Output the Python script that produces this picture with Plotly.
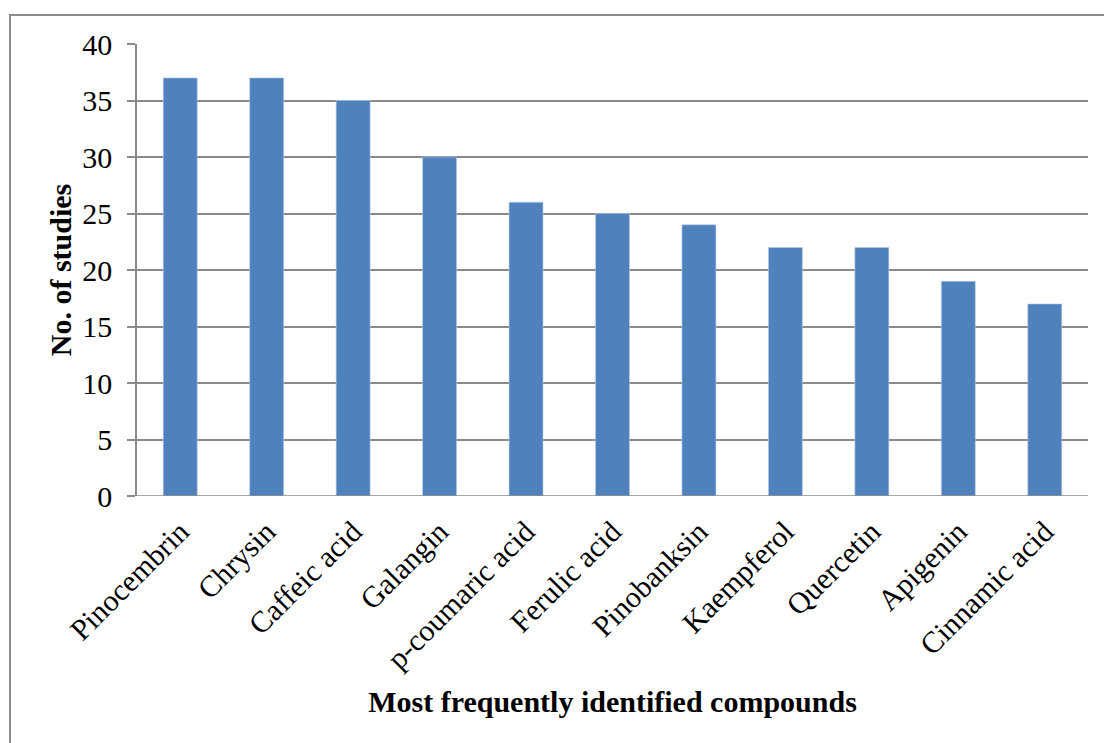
import plotly.graph_objects as go

# Compounds and the number of studies reporting each
compounds = ["Pinocembrin", "Chrysin", "Caffeic acid", "Galangin", "p-coumaric acid",
             "Ferulic acid", "Pinobanksin", "Kaempferol", "Quercetin", "Apigenin",
             "Cinnamic acid"]
studies = [37, 37, 35, 30, 26, 25, 24, 22, 22, 19, 17]
y_ticks = [0, 5, 10, 15, 20, 25, 30, 35, 40]

GRID = "#8a8a8a"
FONT = "Liberation Serif, Times New Roman, serif"
TICK_SIZE = 30
TITLE_SIZE = 30

fig = go.Figure(
    go.Bar(
        x=compounds,
        y=studies,
        marker=dict(color="#4F81BD", line=dict(color="#b9cde5", width=0.6)),
        hoverinfo="x+y",
    )
)

L, R, T, B = 137, 16, 44, 247
W, H = 1104, 743
pw, ph = W - L - R, H - T - B

fig.update_layout(
    width=W,
    height=H,
    margin=dict(l=L, r=R, t=T, b=B),
    paper_bgcolor="white",
    plot_bgcolor="white",
    bargap=0.607,
    showlegend=False,
    font=dict(family=FONT, color="black", size=TICK_SIZE),
    xaxis=dict(
        tickangle=-45,
        tickfont=dict(size=TICK_SIZE),
        showgrid=False,
        showline=False,
        ticks="",
        ticklabelstandoff=11,
        title=dict(text="<b>Most frequently identified compounds</b>",
                   font=dict(size=TITLE_SIZE), standoff=16),
    ),
    yaxis=dict(
        range=[0, 40],
        tickvals=y_ticks,
        tickfont=dict(size=TICK_SIZE),
        showgrid=True,
        gridcolor=GRID,
        gridwidth=1.6,
        showline=True,
        linecolor=GRID,
        linewidth=1.6,
        ticks="outside",
        ticklen=8,
        tickwidth=1.6,
        tickcolor=GRID,
        ticklabelstandoff=9,
        zeroline=False,
        title=dict(text="<b>No. of studies</b>", font=dict(size=TITLE_SIZE), standoff=2),
    ),
    shapes=[
        # outer frame around the whole chart
        dict(type="rect", xref="paper", yref="paper",
             x0=(10 - L) / pw, x1=(1112 - L) / pw,
             y0=(H - B - 760) / ph, y1=(H - B - 15) / ph,
             line=dict(color="#8c8c8c", width=2), fillcolor="rgba(0,0,0,0)",
             layer="below"),
        # baseline at zero
        dict(type="line", xref="paper", yref="y",
             x0=-8 / pw, x1=1, y0=0, y1=0,
             line=dict(color=GRID, width=1.6)),
    ],
)

fig.write_html("out.html")
